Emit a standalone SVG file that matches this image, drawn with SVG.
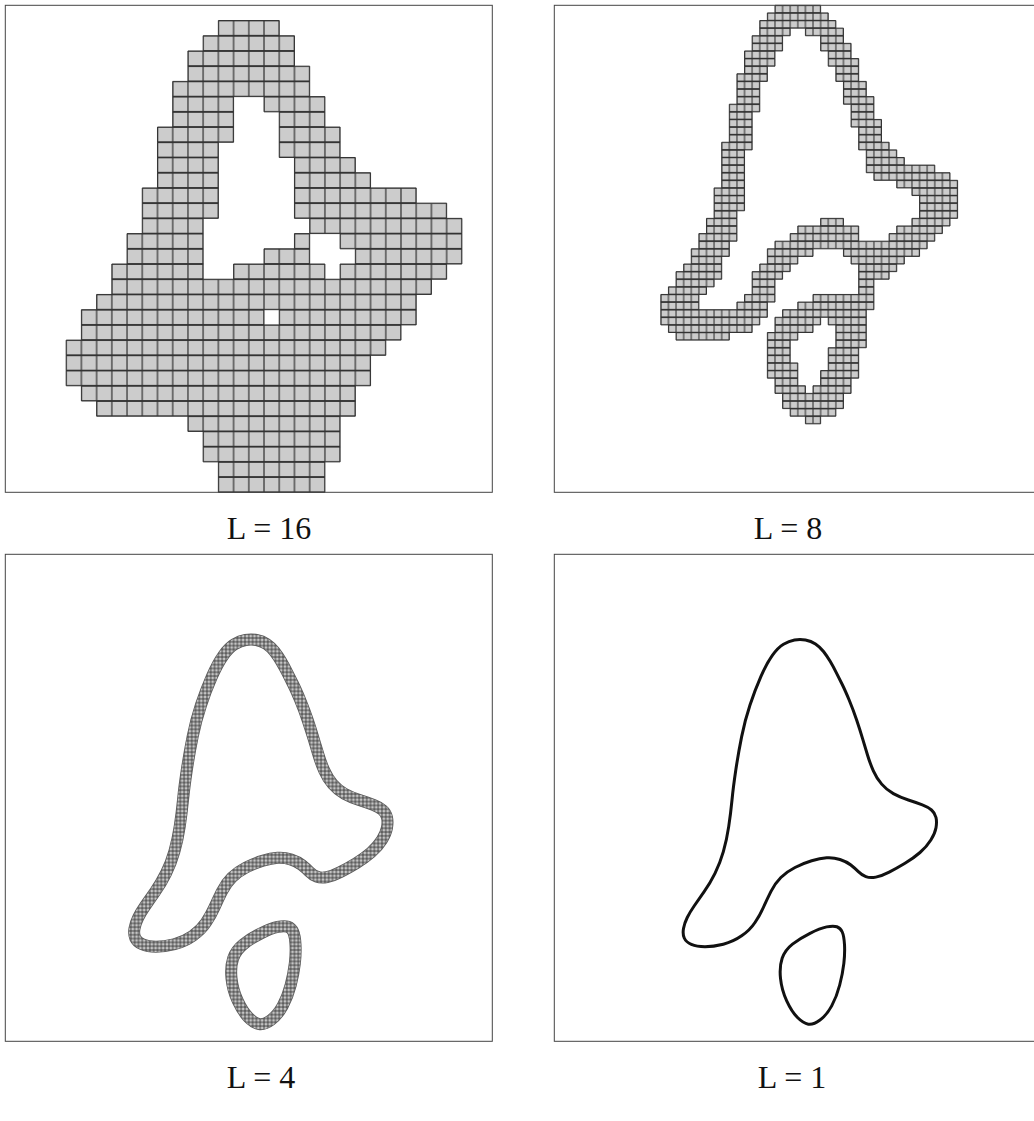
<svg xmlns="http://www.w3.org/2000/svg" xmlns:xlink="http://www.w3.org/1999/xlink" width="1034" height="1121" viewBox="0 0 1034 1121">
<style>
.frame{fill:none;stroke:#444;stroke-width:1}
.lbl{font-family:"Liberation Serif","Times New Roman",serif;font-size:32px;fill:#111;text-anchor:middle}
.cells{stroke:#333;stroke-width:1}
</style>
<defs>
<pattern id="p16" width="1" height="1" patternUnits="userSpaceOnUse">
<rect width="1" height="1" fill="#cccccc"/>
<path d="M0 0H1V1H0Z" fill="none" stroke="#333" stroke-width="0.08"/>
</pattern>
<pattern id="p8" width="1" height="1" patternUnits="userSpaceOnUse">
<rect width="1" height="1" fill="#cccccc"/>
<path d="M0 0H1V1H0Z" fill="none" stroke="#333" stroke-width="0.14"/>
</pattern>
<pattern id="p4" x="554.3" y="554.3" width="3.8046875" height="3.8046875" patternUnits="userSpaceOnUse">
<rect width="3.8046875" height="3.8046875" fill="#c4c4c4"/>
<path d="M0 0H3.8046875V3.8046875H0Z" fill="none" stroke="#2a2a2a" stroke-width="0.8"/>
</pattern>
<path id="curve" fill="none" d="M794.5 640 Q800 639 805.5 640 Q811 641 815.5 644 Q820 647 823.5 651.5 Q827 656 830.15 661.35 Q833.3 666.7 836.15 672.35 Q839 678 842 684 Q845 690 849.15 700 Q853.3 710 856.65 720 Q860 730 862.5 738.35 Q865 746.7 867.5 755 Q870 763.3 873.35 770.8 Q876.7 778.3 881.7 784.15 Q886.7 790 893.35 793.65 Q900 797.3 908.35 800 Q916.7 802.7 922.35 804.85 Q928 807 931.5 810 Q935 813 936 817.5 Q937 822 936 827.65 Q935 833.3 930.85 840 Q926.7 846.7 920 852.5 Q913.3 858.3 905 863.3 Q896.7 868.3 889.2 872.15 Q881.7 876 875.85 877.15 Q870 878.3 865.85 876.65 Q861.7 875 858.35 871.65 Q855 868.3 850.85 865 Q846.7 861.7 840 859.5 Q833.3 857.3 826.65 857.8 Q820 858.3 811.65 860.8 Q803.3 863.3 795 867.5 Q786.7 871.7 780.85 877.5 Q775 883.3 770.85 891.65 Q766.7 900 763.35 907.5 Q760 915 755 922.5 Q750 930 741.65 935.85 Q733.3 941.7 723.3 944.2 Q713.3 946.7 705 946.7 Q696.7 946.7 691.35 944.35 Q686 942 684.25 938 Q682.5 934 683.5 928.5 Q684.5 923 687.25 917.5 Q690 912 694.15 906 Q698.3 900 704.15 891.65 Q710 883.3 715 873.3 Q720 863.3 723.35 851.65 Q726.7 840 728.7 826.65 Q730.7 813.3 732 800 Q733.3 786.7 735.8 770 Q738.3 753.3 741.65 736.65 Q745 720 750 705 Q755 690 760.85 676.65 Q766.7 663.3 772.35 655.4 Q778 647.5 783.5 644.25 Q789 641 794.5 640 Z M792.5 944.15 Q800 938.3 810 933.3 Q820 928.3 826.65 926.9 Q833.3 925.5 836.9 926.75 Q840.5 928 842.25 932 Q844 936 844.5 944.65 Q845 953.3 843.85 963.3 Q842.7 973.3 839.7 985 Q836.7 996.7 831.7 1005.85 Q826.7 1015 820 1020 Q813.3 1025 808.3 1024.15 Q803.3 1023.3 797.5 1017.5 Q791.7 1011.7 786.7 1000.85 Q781.7 990 780.5 978.35 Q779.3 966.7 782.15 958.35 Q785 950 792.5 944.15 Z"/>
</defs>
<rect width="1034" height="1121" fill="#fff"/>

<g id="panel-L16">
<g transform="translate(5.3 5.3) scale(15.21875)">
<path class="cells" vector-effect="non-scaling-stroke" fill="url(#p16)" d="M14 1h4v1h-4z M13 2h6v1h-6z M12 3h7v1h-7z M12 4h8v1h-8z M11 5h9v1h-9z M11 6h4v1h-4z M17 6h4v1h-4z M11 7h4v1h-4z M18 7h3v1h-3z M10 8h5v1h-5z M18 8h4v1h-4z M10 9h4v1h-4z M18 9h4v1h-4z M10 10h4v1h-4z M19 10h4v1h-4z M10 11h4v1h-4z M19 11h5v1h-5z M9 12h5v1h-5z M19 12h8v1h-8z M9 13h5v1h-5z M19 13h10v1h-10z M9 14h4v1h-4z M20 14h10v1h-10z M8 15h5v1h-5z M19 15h1v1h-1z M22 15h8v1h-8z M8 16h5v1h-5z M17 16h3v1h-3z M23 16h7v1h-7z M7 17h6v1h-6z M15 17h6v1h-6z M22 17h7v1h-7z M7 18h21v1h-21z M6 19h21v1h-21z M5 20h12v1h-12z M18 20h9v1h-9z M5 21h21v1h-21z M4 22h21v1h-21z M4 23h20v1h-20z M4 24h20v1h-20z M5 25h18v1h-18z M6 26h17v1h-17z M12 27h10v1h-10z M13 28h9v1h-9z M13 29h9v1h-9z M14 30h7v1h-7z M14 31h7v1h-7z"/>
</g>
<rect class="frame" x="5.3" y="5.3" width="487" height="487"/>
<text class="lbl" x="269" y="539">L = 16</text>
</g>

<g id="panel-L8">
<g transform="translate(554.3 5.3) scale(7.609375)">
<path class="cells" vector-effect="non-scaling-stroke" fill="url(#p8)" d="M29 0h6v1h-6z M28 1h8v1h-8z M27 2h10v1h-10z M27 3h4v1h-4z M33 3h5v1h-5z M26 4h4v1h-4z M35 4h3v1h-3z M26 5h4v1h-4z M35 5h4v1h-4z M25 6h4v1h-4z M36 6h3v1h-3z M25 7h4v1h-4z M36 7h4v1h-4z M25 8h3v1h-3z M37 8h3v1h-3z M24 9h4v1h-4z M37 9h3v1h-3z M24 10h3v1h-3z M38 10h3v1h-3z M24 11h3v1h-3z M38 11h3v1h-3z M24 12h3v1h-3z M38 12h4v1h-4z M23 13h4v1h-4z M39 13h3v1h-3z M23 14h3v1h-3z M39 14h3v1h-3z M23 15h3v1h-3z M39 15h4v1h-4z M23 16h3v1h-3z M40 16h3v1h-3z M23 17h3v1h-3z M40 17h3v1h-3z M22 18h4v1h-4z M40 18h4v1h-4z M22 19h3v1h-3z M41 19h4v1h-4z M22 20h3v1h-3z M41 20h5v1h-5z M22 21h3v1h-3z M41 21h9v1h-9z M22 22h3v1h-3z M42 22h10v1h-10z M22 23h3v1h-3z M45 23h8v1h-8z M21 24h4v1h-4z M47 24h6v1h-6z M21 25h4v1h-4z M48 25h5v1h-5z M21 26h4v1h-4z M48 26h5v1h-5z M21 27h3v1h-3z M48 27h5v1h-5z M20 28h4v1h-4z M35 28h3v1h-3z M47 28h5v1h-5z M20 29h4v1h-4z M32 29h8v1h-8z M45 29h6v1h-6z M19 30h5v1h-5z M31 30h9v1h-9z M44 30h6v1h-6z M19 31h4v1h-4z M29 31h20v1h-20z M18 32h5v1h-5z M28 32h6v1h-6z M38 32h10v1h-10z M18 33h4v1h-4z M28 33h4v1h-4z M39 33h7v1h-7z M17 34h5v1h-5z M27 34h4v1h-4z M40 34h5v1h-5z M16 35h6v1h-6z M26 35h4v1h-4z M40 35h4v1h-4z M16 36h5v1h-5z M26 36h3v1h-3z M40 36h2v1h-2z M15 37h5v1h-5z M26 37h3v1h-3z M40 37h2v1h-2z M14 38h5v1h-5z M25 38h4v1h-4z M34 38h8v1h-8z M14 39h5v1h-5z M24 39h4v1h-4z M32 39h10v1h-10z M14 40h14v1h-14z M30 40h11v1h-11z M14 41h13v1h-13z M29 41h6v1h-6z M36 41h5v1h-5z M15 42h11v1h-11z M29 42h5v1h-5z M37 42h4v1h-4z M16 43h7v1h-7z M28 43h4v1h-4z M37 43h4v1h-4z M28 44h3v1h-3z M37 44h4v1h-4z M28 45h3v1h-3z M36 45h4v1h-4z M28 46h3v1h-3z M36 46h4v1h-4z M28 47h4v1h-4z M36 47h4v1h-4z M28 48h4v1h-4z M35 48h5v1h-5z M29 49h3v1h-3z M35 49h4v1h-4z M29 50h4v1h-4z M34 50h5v1h-5z M30 51h8v1h-8z M30 52h8v1h-8z M31 53h6v1h-6z M33 54h2v1h-2z"/>
</g>
<rect class="frame" x="554.3" y="5.3" width="487" height="487"/>
<text class="lbl" x="788" y="539">L = 8</text>
</g>

<g id="panel-L4">
<use xlink:href="#curve" href="#curve" transform="translate(-549 0)" stroke="#5a5a5a" stroke-width="12" stroke-linejoin="round"/>
<use xlink:href="#curve" href="#curve" transform="translate(-549 0)" stroke="url(#p4)" stroke-width="10.5" stroke-linejoin="round"/>
<rect class="frame" x="5.3" y="554.3" width="487" height="487"/>
<text class="lbl" x="261" y="1088">L = 4</text>
</g>

<g id="panel-L1">
<use xlink:href="#curve" href="#curve" stroke="#111" stroke-width="3" stroke-linejoin="round"/>
<rect class="frame" x="554.3" y="554.3" width="487" height="487"/>
<text class="lbl" x="792" y="1088">L = 1</text>
</g>
</svg>
